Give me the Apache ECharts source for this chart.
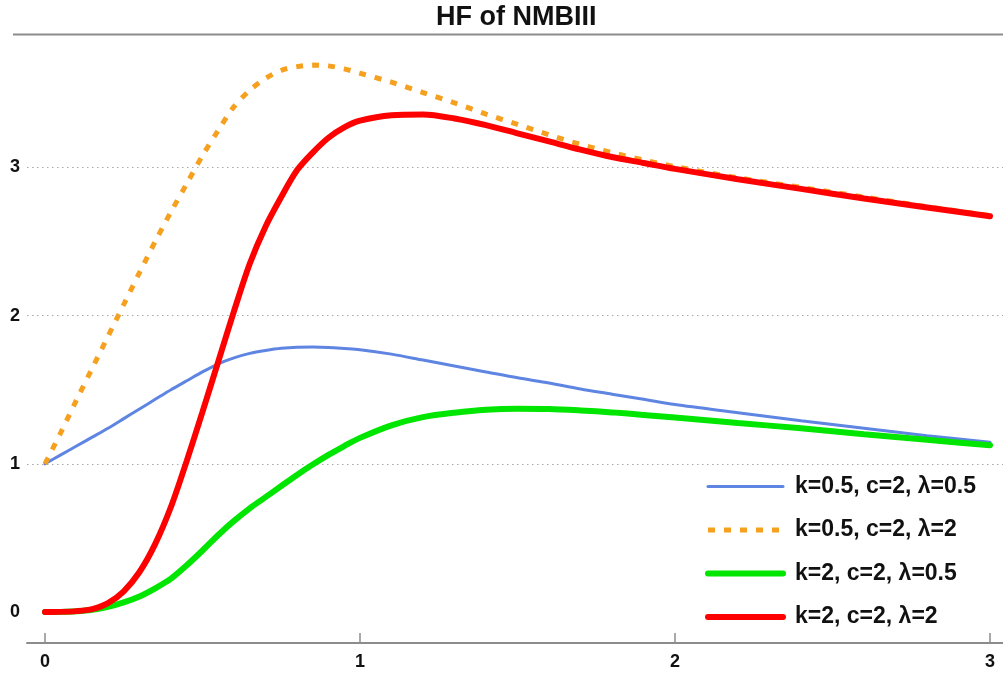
<!DOCTYPE html>
<html>
<head>
<meta charset="utf-8">
<script src="https://cdn.jsdelivr.net/npm/echarts@6/dist/echarts.min.js"></script>
<style>html,body{margin:0;padding:0;background:#fff}#c{width:1003px;height:673px}</style>
</head>
<body>
<div id="c"></div>
<script>
const titleText = 'HF of NMBIII';
const seriesNames = ['k=0.5, c=2, \u03bb=0.5', 'k=0.5, c=2, \u03bb=2', 'k=2, c=2, \u03bb=0.5', 'k=2, c=2, \u03bb=2'];
const xTicks = [0, 1, 2, 3];
const yTicks = [0, 1, 2, 3];
const gridValues = [1, 2, 3];
const xs = [0,0.05,0.1,0.15,0.2,0.25,0.3,0.35,0.4,0.45,0.5,0.55,0.6,0.65,0.7,0.75,0.8,0.85,0.9,0.95,1.0,1.1,1.2,1.3,1.4,1.5,1.6,1.7,1.8,1.9,2.0,2.2,2.4,2.6,2.8,3.0];
const blue = [1.00,1.06,1.12,1.18,1.24,1.305,1.37,1.435,1.50,1.56,1.62,1.675,1.715,1.745,1.765,1.78,1.787,1.788,1.785,1.778,1.77,1.74,1.70,1.66,1.62,1.58,1.545,1.505,1.47,1.435,1.40,1.345,1.29,1.24,1.19,1.145];
const orange = [1.00,1.21,1.43,1.645,1.86,2.075,2.29,2.50,2.70,2.89,3.08,3.25,3.41,3.52,3.60,3.655,3.68,3.69,3.685,3.665,3.635,3.575,3.505,3.435,3.36,3.29,3.22,3.155,3.10,3.05,3.005,2.93,2.865,2.80,2.735,2.675];
const green = [0,0.001,0.005,0.015,0.035,0.065,0.105,0.16,0.225,0.315,0.415,0.52,0.615,0.70,0.775,0.85,0.925,0.995,1.06,1.12,1.175,1.26,1.315,1.345,1.365,1.372,1.37,1.36,1.347,1.33,1.312,1.275,1.24,1.20,1.162,1.125];
const red = [0,0.001,0.006,0.02,0.06,0.14,0.27,0.46,0.71,1.02,1.35,1.69,2.03,2.35,2.60,2.80,2.98,3.10,3.20,3.27,3.315,3.352,3.357,3.33,3.285,3.23,3.175,3.12,3.07,3.03,2.99,2.92,2.855,2.79,2.73,2.67];

const pairs = ys => xs.map((x, i) => [x, ys[i]]);
const FONT = 'Liberation Sans, Arial, sans-serif';
const colors = ['#5f85e2', '#f6a020', '#00e600', '#ff0000'];
const widths = [3, 5, 6, 6];
const types = ['solid', [7, 9], 'solid', 'solid'];
const dataSets = [blue, orange, green, red];

const chart = echarts.init(document.getElementById('c'), null, {renderer: 'canvas'});

chart.setOption({
  animation: false,
  backgroundColor: '#fff',
  title: {
    text: titleText, left: 436, top: 4, padding: 0,
    textStyle: {fontFamily: FONT, fontSize: 27, fontWeight: 'bold', color: '#111'}
  },
  graphic: [{
    type: 'line', shape: {x1: 13, y1: 34.5, x2: 1003, y2: 34.5},
    style: {stroke: '#8c8c8c', lineWidth: 2}
  }],
  grid: {left: 27, right: 0, top: 34, bottom: 30, containLabel: false},
  xAxis: {
    type: 'value', min: -0.0571, max: 3.0413,
    axisLine: {show: true, onZero: false, lineStyle: {color: '#8c8c8c', width: 2}},
    axisTick: {show: true, inside: true, length: 10, customValues: xTicks, lineStyle: {color: '#8c8c8c', width: 1.5}},
    axisLabel: {customValues: xTicks, margin: 10, fontFamily: FONT, fontSize: 18, fontWeight: 'bold', color: '#111'},
    splitLine: {show: false}
  },
  yAxis: {
    type: 'value', min: -0.209, max: 3.9,
    axisLine: {show: false}, axisTick: {show: false},
    axisLabel: {customValues: yTicks, margin: 7, fontFamily: FONT, fontSize: 18, fontWeight: 'bold', color: '#111'},
    splitLine: {show: false}
  },
  legend: {
    data: seriesNames.map((n, i) => ({name: n, lineStyle: {width: widths[i]}})),
    orient: 'vertical', left: 705, top: 475, padding: 0,
    itemWidth: 75, itemHeight: 2, itemGap: 20.5,
    textStyle: {fontFamily: FONT, fontSize: 23, fontWeight: 'bold', color: '#111', lineHeight: 23, padding: [0, 0, 0, 7]},
    selectedMode: false
  },
  series: [
    {
      name: 'grid', type: 'line', data: [], z: 1, silent: true,
      markLine: {
        silent: true, symbol: ['none', 'none'], label: {show: false},
        lineStyle: {color: '#a8a8a8', width: 1.2, type: [1.5, 3.5]},
        data: gridValues.map(v => ({yAxis: v}))
      }
    }
  ].concat(seriesNames.map((name, i) => ({
    name, type: 'line', data: pairs(dataSets[i]), showSymbol: false, symbol: 'none',
    smooth: 0.3, z: 3 + i,
    lineStyle: {color: colors[i], width: widths[i], type: types[i], cap: i === 1 ? 'butt' : 'round'},
    itemStyle: {color: colors[i]},
    emphasis: {disabled: true}
  })))
});
</script>
</body>
</html>
